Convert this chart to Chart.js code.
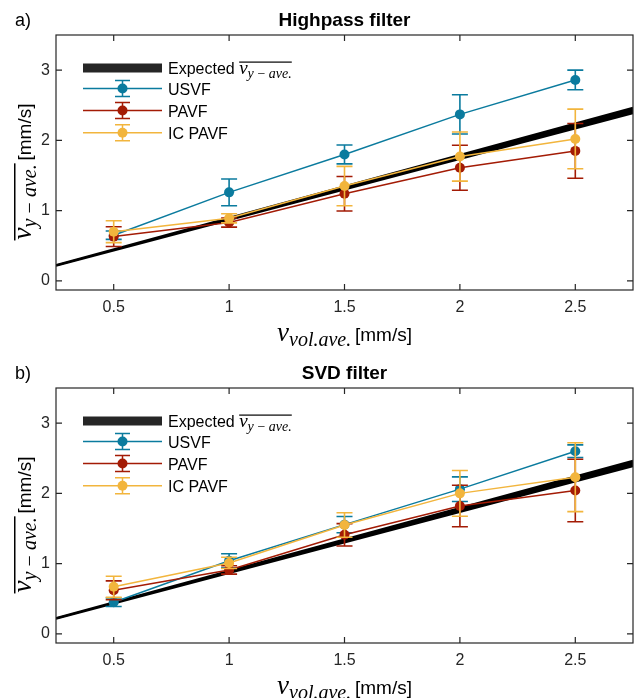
<!DOCTYPE html>
<html>
<head>
<meta charset="utf-8">
<script src="https://cdn.jsdelivr.net/npm/chart.js@4.4.0/dist/chart.umd.min.js"></script>
<style>
  body { margin: 0; background: #fff; }
  .panel { position: absolute; left: 0; }
</style>
</head>
<body>
<canvas id="chart-a" class="panel" width="638" height="349" style="top:0"></canvas>
<canvas id="chart-b" class="panel" width="638" height="345" style="top:353px"></canvas>
<script>
/* ── DATA ── */
const X_VALUES = [0.5, 1, 1.5, 2, 2.5];
const X_TICKS = [0.5, 1, 1.5, 2, 2.5];
const X_TICK_LABELS = ['0.5', '1', '1.5', '2', '2.5'];
const Y_TICKS = [0, 1, 2, 3];
const Y_TICK_LABELS = ['0', '1', '2', '3'];
const X_RANGE = [0.25, 2.75];
const Y_RANGE = [-0.13, 3.5];

// expected band (lower / upper edge)
const EXPECTED_X = [0.25, 2.75];
const EXPECTED_LOW = [0.217, 2.388];
const EXPECTED_HIGH = [0.224, 2.465];

const SERIES_NAMES = ['USVF', 'PAVF', 'IC PAVF'];
const SERIES_COLORS = ['#0b7b9e', '#a31b05', '#f2b53d'];

// a) Highpass filter
const HP_USVF = [0.65, 1.26, 1.80, 2.37, 2.86];
const HP_USVF_ERR = [0.06, 0.19, 0.135, 0.28, 0.14];
const HP_PAVF = [0.63, 0.83, 1.24, 1.61, 1.85];
const HP_PAVF_ERR = [0.14, 0.065, 0.245, 0.32, 0.39];
const HP_ICPAVF = [0.70, 0.89, 1.35, 1.77, 2.02];
const HP_ICPAVF_ERR = [0.155, 0.065, 0.28, 0.35, 0.425];

// b) SVD filter
const SVD_USVF = [0.45, 1.04, 1.555, 2.06, 2.60];
const SVD_USVF_ERR = [0.06, 0.10, 0.115, 0.175, 0.09];
const SVD_PAVF = [0.62, 0.91, 1.41, 1.82, 2.04];
const SVD_PAVF_ERR = [0.135, 0.06, 0.16, 0.295, 0.445];
const SVD_ICPAVF = [0.67, 1.01, 1.55, 2.00, 2.23];
const SVD_ICPAVF_ERR = [0.15, 0.08, 0.175, 0.325, 0.49];

/* ── STYLE ── */
const AXIS_COLOR = '#262626';
const SANS = '"Liberation Sans", Arial, sans-serif';
const SERIF = '"Liberation Serif", "DejaVu Serif", serif';
const PLOT_LEFT = 56, PLOT_RIGHT_PAD = 5, PLOT_TOP = 35;

/* ── helpers for the math-ish labels ── */
function drawRuns(ctx, runs, x, y, align) {
  let total = 0;
  const widths = runs.map(r => { ctx.font = r.font; const w = ctx.measureText(r.text).width; total += w; return w; });
  let cx = align === 'center' ? x - total / 2 : x;
  const start = cx;
  ctx.textAlign = 'left';
  ctx.textBaseline = 'alphabetic';
  runs.forEach((r, i) => {
    ctx.font = r.font;
    ctx.fillText(r.text, cx, y + (r.dy || 0));
    cx += widths[i];
  });
  return { start, widths, total };
}

function axisLabelRuns(sub) {
  return [
    { text: 'v', font: `italic 27px ${SERIF}` },
    { text: sub, font: `italic 20px ${SERIF}`, dy: 5 },
    { text: '\u2009[mm/s]', font: `19px ${SANS}` },
  ];
}

/* ── PLUGIN: error bars, box, inward ticks, titles, legend ── */
const matlabLook = {
  id: 'matlabLook',
  afterDatasetDraw(chart, args) {
    const ds = chart.data.datasets[args.index];
    if (!ds.errors) return;
    const { ctx, scales: { y } } = chart;
    ctx.save();
    ctx.strokeStyle = ds.borderColor;
    ctx.lineWidth = 1.6;
    args.meta.data.forEach((pt, i) => {
      const v = ds.data[i].y, e = ds.errors[i];
      const top = y.getPixelForValue(v + e), bot = y.getPixelForValue(v - e);
      ctx.beginPath();
      ctx.moveTo(pt.x, top); ctx.lineTo(pt.x, bot);
      ctx.moveTo(pt.x - 8, top); ctx.lineTo(pt.x + 8, top);
      ctx.moveTo(pt.x - 8, bot); ctx.lineTo(pt.x + 8, bot);
      ctx.stroke();
    });
    ctx.restore();
  },
  afterDraw(chart, args, opts) {
    const { ctx, chartArea: a, scales: { x, y } } = chart;
    ctx.save();

    // box + inward ticks
    ctx.strokeStyle = AXIS_COLOR;
    ctx.lineWidth = 1.2;
    ctx.strokeRect(a.left, a.top, a.right - a.left, a.bottom - a.top);
    ctx.beginPath();
    X_TICKS.forEach(v => {
      const px = x.getPixelForValue(v);
      ctx.moveTo(px, a.bottom); ctx.lineTo(px, a.bottom - 6);
      ctx.moveTo(px, a.top); ctx.lineTo(px, a.top + 6);
    });
    Y_TICKS.forEach(v => {
      const py = y.getPixelForValue(v);
      ctx.moveTo(a.left, py); ctx.lineTo(a.left + 6, py);
      ctx.moveTo(a.right, py); ctx.lineTo(a.right - 6, py);
    });
    ctx.stroke();

    // panel tag + title
    ctx.fillStyle = '#000';
    ctx.textBaseline = 'alphabetic';
    ctx.textAlign = 'left';
    ctx.font = `18px ${SANS}`;
    ctx.fillText(opts.tag, 15, 26);
    ctx.textAlign = 'center';
    ctx.font = `bold 19px ${SANS}`;
    ctx.fillText(opts.title, (a.left + a.right) / 2, 26);

    // x axis label
    ctx.fillStyle = '#000';
    drawRuns(ctx, axisLabelRuns('vol.ave.'), (a.left + a.right) / 2, a.bottom + 51, 'center');

    // y axis label (rotated, with overline)
    ctx.save();
    ctx.translate(31, (a.top + a.bottom) / 2 + 9);
    ctx.rotate(-Math.PI / 2);
    const r = drawRuns(ctx, axisLabelRuns('y\u2009\u2212\u2009ave.'), 0, 0, 'center');
    ctx.fillRect(r.start - 1, -17, r.widths[0] + r.widths[1] + 2, 1.5);
    ctx.restore();

    // legend
    const lx0 = 83, lx1 = 162, lxm = 122.5, tx = 168;
    const rows = [68, 88.5, 110.5, 132.8];
    ctx.fillStyle = '#262626';
    ctx.fillRect(lx0, rows[0] - 4.5, lx1 - lx0, 9);
    ctx.fillStyle = '#000';
    ctx.font = `16px ${SANS}`;
    ctx.textAlign = 'left';
    ctx.textBaseline = 'alphabetic';
    ctx.fillText('Expected ', tx, rows[0] + 6);
    const ew = ctx.measureText('Expected ').width;
    const lr = drawRuns(ctx, [
      { text: 'v', font: `italic 19px ${SERIF}` },
      { text: 'y\u2009\u2212\u2009ave.', font: `italic 14px ${SERIF}`, dy: 4 },
    ], tx + ew, rows[0] + 6, 'left');
    ctx.fillRect(lr.start, rows[0] - 6.5, lr.total, 1.2);

    SERIES_NAMES.forEach((name, i) => {
      const cy = rows[i + 1];
      const c = SERIES_COLORS[i];
      ctx.strokeStyle = c;
      ctx.lineWidth = 1.5;
      ctx.beginPath();
      ctx.moveTo(lx0, cy); ctx.lineTo(lx1, cy);
      ctx.moveTo(lxm, cy - 8); ctx.lineTo(lxm, cy + 8);
      ctx.moveTo(lxm - 7.5, cy - 8); ctx.lineTo(lxm + 7.5, cy - 8);
      ctx.moveTo(lxm - 7.5, cy + 8); ctx.lineTo(lxm + 7.5, cy + 8);
      ctx.stroke();
      ctx.fillStyle = c;
      ctx.beginPath();
      ctx.arc(lxm, cy, 5, 0, Math.PI * 2);
      ctx.fill();
      ctx.fillStyle = '#000';
      ctx.font = `16px ${SANS}`;
      ctx.fillText(name, tx, cy + 6);
    });

    ctx.restore();
  },
};

/* ── CHART BUILDER ── */
function toPoints(xs, ys) {
  return xs.map((x, i) => ({ x, y: ys[i] }));
}

function seriesDataset(i, values, errors, order) {
  return {
    label: SERIES_NAMES[i],
    data: toPoints(X_VALUES, values),
    errors,
    borderColor: SERIES_COLORS[i],
    backgroundColor: SERIES_COLORS[i],
    pointBackgroundColor: SERIES_COLORS[i],
    borderWidth: 1.5,
    pointRadius: 5,
    pointBorderWidth: 0,
    pointHoverRadius: 5,
    tension: 0,
    order,
  };
}

function makeChart(canvasId, tag, title, series) {
  const canvas = document.getElementById(canvasId);
  const plotBottom = 290;
  const tickFont = { family: SANS, size: 16 };

  return new Chart(canvas.getContext('2d'), {
    type: 'line',
    data: {
      datasets: [
        {
          label: 'expected-low', data: toPoints(EXPECTED_X, EXPECTED_LOW),
          borderColor: '#000', borderWidth: 2.2, pointRadius: 0, fill: false, order: 10,
        },
        {
          label: 'expected-high', data: toPoints(EXPECTED_X, EXPECTED_HIGH),
          borderColor: '#000', backgroundColor: '#000', borderWidth: 2.2, pointRadius: 0, fill: '-1', order: 9,
        },
        seriesDataset(0, series[0], series[1], 3),
        seriesDataset(1, series[2], series[3], 2),
        seriesDataset(2, series[4], series[5], 1),
      ],
    },
    options: {
      responsive: false,
      animation: false,
      events: [],
      layout: { padding: { top: PLOT_TOP, right: PLOT_RIGHT_PAD, left: 0, bottom: 0 } },
      plugins: {
        legend: { display: false },
        tooltip: { enabled: false },
        matlabLook: { tag, title },
      },
      scales: {
        x: {
          type: 'linear',
          min: X_RANGE[0], max: X_RANGE[1],
          afterBuildTicks: s => { s.ticks = X_TICKS.map(v => ({ value: v })); },
          afterFit: s => { s.height = canvas.height - plotBottom; },
          ticks: {
            callback: (v, i) => X_TICK_LABELS[i],
            font: tickFont, color: AXIS_COLOR, padding: 8, maxRotation: 0, autoSkip: false,
          },
          grid: { display: false, drawTicks: false },
          border: { display: false },
        },
        y: {
          type: 'linear',
          min: Y_RANGE[0], max: Y_RANGE[1],
          afterBuildTicks: s => { s.ticks = Y_TICKS.map(v => ({ value: v })); },
          afterFit: s => { s.width = PLOT_LEFT; },
          ticks: {
            callback: (v, i) => Y_TICK_LABELS[i],
            font: tickFont, color: AXIS_COLOR, padding: 6, autoSkip: false,
          },
          grid: { display: false, drawTicks: false },
          border: { display: false },
        },
      },
    },
    plugins: [matlabLook],
  });
}

makeChart('chart-a', 'a)', 'Highpass filter',
  [HP_USVF, HP_USVF_ERR, HP_PAVF, HP_PAVF_ERR, HP_ICPAVF, HP_ICPAVF_ERR]);
makeChart('chart-b', 'b)', 'SVD filter',
  [SVD_USVF, SVD_USVF_ERR, SVD_PAVF, SVD_PAVF_ERR, SVD_ICPAVF, SVD_ICPAVF_ERR]);
</script>
</body>
</html>
